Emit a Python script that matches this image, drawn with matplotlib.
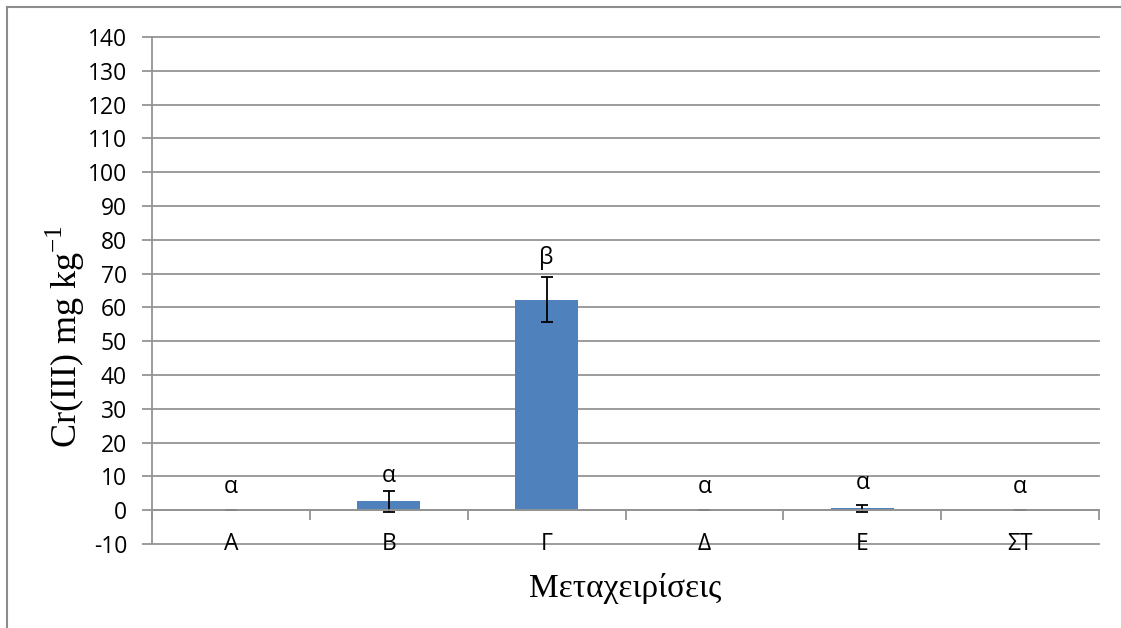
import matplotlib
matplotlib.use("Agg")
import matplotlib.pyplot as plt
from matplotlib.lines import Line2D

# Treatments, mean Cr(III) concentration and standard error
treatments = ["Α", "Β", "Γ", "Δ", "Ε", "ΣΤ"]
cr_mean = [0.0, 2.6, 62.3, 0.0, 0.5, 0.0]
cr_err = [0.0, 3.0, 6.7, 0.0, 0.9, 0.0]
groups = ["α", "α", "β", "α", "α", "α"]

y_ticks = list(range(-10, 141, 10))

# vertical gap (points) between error-bar top and the significance letter
letter_pad = [17, 11, 14, 17, 16.5, 17]

bar_color = "#4F81BD"
grid_color = "#949494"
sans = ["Open Sans", "DejaVu Sans"]
serif = ["Liberation Serif", "DejaVu Serif"]
tick_size = 16.5

fig = plt.figure(figsize=(11.21, 6.28), dpi=100)
ax = fig.add_axes([0.1356, 0.1338, 0.8448, 0.8073])

x = list(range(len(treatments)))
ax.bar(x, cr_mean, width=0.4, color=bar_color, zorder=3)
ax.errorbar(x, cr_mean, yerr=cr_err, fmt="none", ecolor="black",
            elinewidth=1.3, capsize=4.5, capthick=1.3, zorder=4)

ax.set_xlim(-0.5, len(treatments) - 0.5)
ax.set_ylim(y_ticks[0], y_ticks[-1])
ax.set_yticks(y_ticks)
ax.set_yticklabels([str(v) for v in y_ticks], fontfamily=sans, fontsize=tick_size)
ax.yaxis.grid(True, color=grid_color, linewidth=1.3, zorder=0)
for gl in ax.get_ygridlines():
    gl.set_clip_on(False)

# category axis crosses at zero, ticks between categories
ax.spines["bottom"].set_position(("data", 0))
ax.spines["bottom"].set_color(grid_color)
ax.spines["bottom"].set_linewidth(1.3)
ax.spines["bottom"].set_zorder(5)
ax.spines["left"].set_color(grid_color)
ax.spines["left"].set_linewidth(1.3)
ax.spines["top"].set_visible(False)
ax.spines["right"].set_visible(False)

ax.set_xticks([i - 0.5 for i in range(len(treatments) + 1)])
ax.set_xticklabels([])
ax.tick_params(axis="x", direction="out", length=7, width=1.3, color=grid_color)
ax.tick_params(axis="y", direction="out", length=7, width=1.3, color=grid_color,
               pad=11)

# category names sit on the lower boundary of the plot
for i, name in enumerate(treatments):
    ax.text(i, y_ticks[0], name, ha="center", va="center",
            fontfamily=sans, fontsize=tick_size, clip_on=False, zorder=2)

# significance letters above each bar
for i, (m, e, g) in enumerate(zip(cr_mean, cr_err, groups)):
    ax.annotate(g, xy=(i, m + e), xytext=(0, letter_pad[i]),
                textcoords="offset points", ha="center", va="center",
                fontfamily=sans, fontsize=16.5)

ax.set_ylabel("Cr(III) mg kg$^{\\mathregular{-1}}$", fontfamily=serif,
              fontsize=26)
ax.yaxis.label.set_va("center")
ax.yaxis.set_label_coords(-0.091, 0.41)
ax.set_xlabel("Μεταχειρίσεις", fontfamily=serif, fontsize=24)
ax.xaxis.label.set_va("center")
ax.xaxis.set_label_coords(0.5, -0.087)

# chart-area border along the top and left edges
fig.add_artist(Line2D([7 / 1121, 7 / 1121], [0, 1 - 7 / 628],
                      transform=fig.transFigure, color="#8c8c8c", lw=1.5))
fig.add_artist(Line2D([7 / 1121, 1], [1 - 7 / 628, 1 - 7 / 628],
                      transform=fig.transFigure, color="#8c8c8c", lw=1.5))

fig.savefig("out.png", dpi=100)
